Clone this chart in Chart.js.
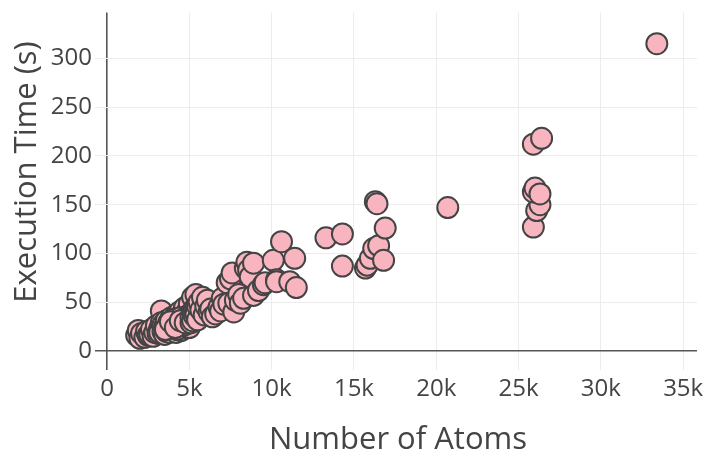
<!DOCTYPE html>
<html>
<head>
<meta charset="utf-8">
<script src="https://cdn.jsdelivr.net/npm/chart.js@4"></script>
<style>
  html, body { margin: 0; padding: 0; background: #fff; }
  #wrap { width: 713px; height: 454px; }
</style>
</head>
<body>
<div id="wrap"><canvas id="chart-atoms" width="713" height="454"></canvas></div>
<script>
// data: atoms vs execution time (s)
var atoms = [
  1800, 1900, 2000, 2100, 2300, 2400, 2500, 2600, 2700, 2800, 2900,
  3000, 3100, 3200, 3200, 3300, 3300, 3400, 3400, 3500, 3500, 3600, 3600, 3700, 3700,
  3800, 3800, 3900, 3900, 3900, 4000, 4000, 4000, 4100, 4100, 4100, 4200, 4200, 4200,
  4300, 4300, 4300, 4400, 4400, 4400, 4500, 4500, 4500, 4600, 4600, 4600, 4600,
  4700, 4700, 4700, 4800, 4800, 4800, 4900, 4900, 4900, 5000, 5000, 5000, 5000,
  3650, 3750, 3850, 3950, 4050, 4150, 4250, 4350, 4450, 4550, 4650, 4750, 4850, 4950, 5050,
  3550, 3850, 4150, 4450, 4750, 5150,
  5100, 5100, 5200, 5200, 5200, 5300, 5300, 5400, 5400, 5400, 5500, 5500, 5600, 5700, 5800,
  5900, 6000, 6100, 6200, 6300, 6400, 6600, 6800, 6900, 7000,
  7100, 7300, 7400, 7500, 7600, 7700, 7800, 8000, 8100, 8300,
  8400, 8500, 8600, 8700, 8900, 8900, 9200, 9500, 9600, 10100,
  10300, 10300, 10600, 11100, 11400, 11500, 13300, 14300, 14300, 15700,
  15800, 16000, 16200, 16500, 16800, 16900, 16300, 16400, 20700, 25900,
  26100, 26300, 25900, 26000, 26300, 25900, 26400, 33400
];
var times = [
  16, 21, 13, 18, 14, 20, 16, 17, 22, 15, 19,
  26, 18, 23, 19, 41, 29, 20, 27, 25, 17, 31, 20, 22, 26,
  27, 19, 34, 23, 28, 24, 29, 32, 21, 27, 31, 37, 26, 19,
  31, 24, 35, 23, 40, 28, 28, 21, 33, 34, 25, 30, 38,
  44, 24, 36, 30, 27, 33, 37, 26, 41, 33, 48, 28, 24,
  23, 29, 25, 31, 26, 33, 22, 28, 34, 26, 31, 27, 35, 30, 38,
  22, 30, 24, 31, 29, 33,
  29, 35, 55, 40, 31, 36, 43, 58, 45, 38, 32, 46, 50, 42, 55,
  37, 46, 52, 40, 43, 35, 38, 45, 41, 54,
  48, 70, 49, 74, 80, 40, 52, 58, 49, 54,
  85, 91, 83, 76, 57, 90, 62, 68, 70, 93,
  73, 71, 112, 71, 95, 65, 116, 120, 87, 85,
  88, 95, 105, 108, 93, 126, 153, 151, 147, 127,
  144, 150, 163, 167, 161, 212, 218, 315
];
var xTicks = [0, 5000, 10000, 15000, 20000, 25000, 30000, 35000];
var yTicks = [0, 50, 100, 150, 200, 250, 300];

var FONT = '"Open Sans", "Noto Sans", sans-serif';
var TEXT = '#444';

// axis titles drawn by hand so they sit where the reference has them
var judulSumbu = {
  id: 'judulSumbu',
  afterDraw: function(chart) {
    var c = chart.ctx;
    var area = chart.chartArea;
    c.save();
    c.fillStyle = TEXT;
    c.font = '31px ' + FONT;
    c.textAlign = 'center';
    c.textBaseline = 'middle';
    c.fillText('Number of Atoms', (area.left + area.right) / 2 + 2, 440);
    c.translate(27, 172);
    c.rotate(-Math.PI / 2);
    c.fillText('Execution Time (s)', 0, 0);
    c.restore();
  }
};

function gridWarna(ctx) {
  return ctx.tick && ctx.tick.value === 0 ? '#555' : '#ececec';
}
function gridTebal(ctx) {
  return ctx.tick && ctx.tick.value === 0 ? 1.6 : 1;
}

new Chart(document.getElementById('chart-atoms'), {
  type: 'scatter',
  data: {
    datasets: [{
      label: 'runs',
      data: atoms.map(function(a, i) { return { x: a, y: times[i] }; }),
      backgroundColor: '#f8b5c0',
      borderColor: '#444',
      borderWidth: 2,
      pointRadius: 10.5,
      pointHoverRadius: 10.5
    }]
  },
  options: {
    responsive: false,
    animation: false,
    devicePixelRatio: 1,
    layout: { padding: { top: 12, right: 16, left: 0, bottom: 0 } },
    plugins: { legend: { display: false }, tooltip: { enabled: false } },
    scales: {
      x: {
        type: 'linear',
        min: -730,
        max: 35840,
        afterBuildTicks: function(s) { s.ticks = xTicks.map(function(v) { return { value: v }; }); },
        afterFit: function(s) { s.height = 84; s.paddingLeft = 0; s.paddingRight = 0; },
        border: { display: false },
        grid: { color: gridWarna, lineWidth: gridTebal, drawTicks: false },
        ticks: {
          padding: 5,
          color: TEXT,
          font: { family: FONT, size: 24 },
          callback: function(v) { return v === 0 ? '0' : (v / 1000) + 'k'; }
        }
      },
      y: {
        type: 'linear',
        min: -19.5,
        max: 347,
        afterBuildTicks: function(s) { s.ticks = yTicks.map(function(v) { return { value: v }; }); },
        afterFit: function(s) { s.width = 95; s.paddingTop = 0; s.paddingBottom = 0; },
        border: { display: false },
        grid: { color: gridWarna, lineWidth: gridTebal, drawTicks: false },
        ticks: {
          padding: 3,
          color: TEXT,
          font: { family: FONT, size: 24 }
        }
      }
    }
  },
  plugins: [judulSumbu]
});
</script>
</body>
</html>
